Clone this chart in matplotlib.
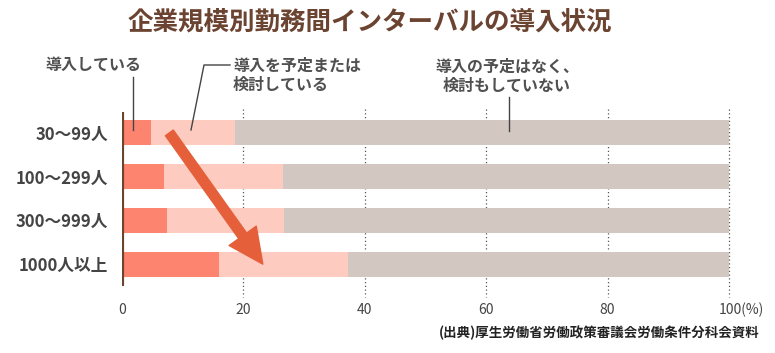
import numpy as np
import matplotlib
matplotlib.use('Agg')
import matplotlib.pyplot as plt
from matplotlib.transforms import ScaledTranslation

plt.rcParams['font.family'] = ['Noto Sans CJK JP', 'DejaVu Sans']

categories = ['30〜99人', '100〜299人', '300〜999人', '1000人以上']
introduced = [4.8, 6.9, 7.4, 16.0]
planned = [13.8, 19.6, 19.3, 21.2]
not_planned = [81.4, 73.5, 73.3, 62.8]
ticks = [0, 20, 40, 60, 80, 100]
tick_labels = ['0', '20', '40', '60', '80', '100(%)']

c_intro = '#fd8570'
c_plan = '#fecbc0'
c_not = '#d3c8c1'
c_text = '#444444'
c_brown = '#6b4331'

fig = plt.figure(figsize=(7.75, 3.53), dpi=100)
ax = fig.add_axes([122 / 775, 1 - 286 / 353, 607 / 775, 175 / 353])

y = np.arange(len(categories))
left = np.zeros(len(categories))
for vals, col in [(introduced, c_intro), (planned, c_plan), (not_planned, c_not)]:
    ax.barh(y, vals, left=left, height=0.57, color=col, zorder=2)
    left += np.array(vals)

ax.set_xlim(0, 100)
ax.set_ylim(3.5, -0.5)
for s in ax.spines.values():
    s.set_visible(False)

# dotted grid, running a little past the plot area
ax.vlines(ticks[1:], -0.55, 3.75, colors='#555555', linestyles=(0, (1, 2)),
          linewidth=0.9, zorder=1, clip_on=False)
ax.vlines(0, -0.48, 3.5, colors=c_brown, linewidth=3, zorder=3)

ax.set_yticks(y)
ax.set_yticklabels(categories, fontsize=12, fontweight='bold', color=c_text)
ax.set_xticks(ticks)
ax.set_xticklabels(tick_labels, fontsize=10, color=c_text)
ax.tick_params(axis='y', length=0, pad=10)
ax.tick_params(axis='x', length=0, pad=12)
# keep "100" centred on its tick, with "(%)" hanging to the right
lab = ax.get_xticklabels()[-1]
lab.set_transform(lab.get_transform() + ScaledTranslation(12 / 100, 0, fig.dpi_scale_trans))

# arrow
ax.annotate('', xy=(23.2, 3.0), xytext=(7.8, 0.0),
            arrowprops=dict(arrowstyle='simple,head_length=2.5,head_width=2.4,tail_width=0.7',
                            mutation_scale=10, color='#e5603a', shrinkA=0, shrinkB=0),
            zorder=5)

# labels with leader lines
fs = 11.5
c_note = '#505050'
fig.text(45 / 775, 1 - 65 / 353, '導入している', fontsize=fs, color=c_note,
         fontweight='bold', ha='left', va='center')
fig.add_artist(plt.Line2D([133 / 775, 133 / 775], [1 - 77 / 353, 1 - 130 / 353],
                          color=c_text, linewidth=1))

fig.text(233 / 775, 1 - 75 / 353, '導入を予定または\n検討している', fontsize=fs,
         color=c_note, fontweight='bold', ha='left', va='center', linespacing=1.25)
fig.add_artist(plt.Line2D([230 / 775, 204 / 775, 191 / 775],
                          [1 - 65 / 353, 1 - 65 / 353, 1 - 130 / 353],
                          color=c_text, linewidth=1))

fig.text(507 / 775, 1 - 76 / 353, '導入の予定はなく、\n検討もしていない', fontsize=fs,
         color=c_note, fontweight='bold', ha='center', va='center', linespacing=1.25)
fig.add_artist(plt.Line2D([509 / 775, 509 / 775], [1 - 97 / 353, 1 - 131 / 353],
                          color=c_text, linewidth=1))

fig.text(370 / 775, 1 - 22 / 353, '企業規模別勤務間インターバルの導入状況', fontsize=18.4,
         fontweight='bold', color=c_brown, ha='center', va='center')
fig.text(760 / 775, 1 - 333 / 353, '(出典)厚生労働省労働政策審議会労働条件分科会資料',
         fontsize=9.7, fontweight='bold', color='#222222', ha='right', va='center')

fig.savefig('out.png', dpi=100, facecolor='white')
